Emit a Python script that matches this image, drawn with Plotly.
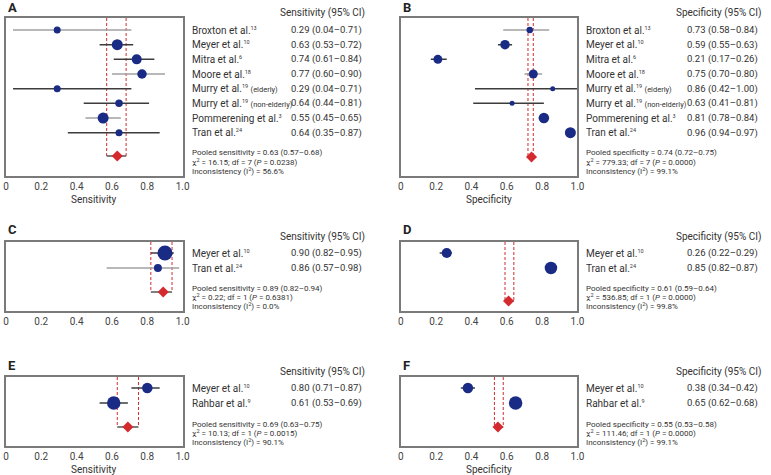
import plotly.graph_objects as go

W, H = 771, 475
FONT = "Roboto"
NAVY = "#1A2B86"
RED = "#D42A2E"
TXT = "#333333"


def sup(t):
    return f"<sup><span style='font-size:5.5px'>{t}</span></sup>"


SMALL = "<span style='font-size:7.5px'>{}</span>"

# ------------------------------------------------------------------ data
A_studies = ["Broxton et al." + sup(13), "Meyer et al." + sup(10), "Mitra et al." + sup(6),
             "Moore et al." + sup(18), "Murry et al." + sup(19) + " " + SMALL.format("(elderly)"),
             "Murry et al." + sup(19) + " " + SMALL.format("(non-elderly)"),
             "Pommerening et al." + sup(3), "Tran et al." + sup(24)]
A_est = [0.29, 0.63, 0.74, 0.77, 0.29, 0.64, 0.55, 0.64]
A_lo = [0.04, 0.53, 0.61, 0.60, 0.04, 0.44, 0.45, 0.35]
A_hi = [0.71, 0.72, 0.84, 0.90, 0.71, 0.81, 0.65, 0.87]
A_pooled = [0.63, 0.57, 0.68]
A_stats = ["16.15", "7", "0.0238", "56.6"]

B_studies = A_studies
B_est = [0.73, 0.59, 0.21, 0.75, 0.86, 0.63, 0.81, 0.96]
B_lo = [0.58, 0.55, 0.17, 0.70, 0.42, 0.41, 0.78, 0.94]
B_hi = [0.84, 0.63, 0.26, 0.80, 1.00, 0.81, 0.84, 0.97]
B_pooled = [0.74, 0.72, 0.75]
B_stats = ["779.33", "7", "0.0000", "99.1"]

C_studies = ["Meyer et al." + sup(10), "Tran et al." + sup(24)]
C_est = [0.90, 0.86]
C_lo = [0.82, 0.57]
C_hi = [0.95, 0.98]
C_pooled = [0.89, 0.82, 0.94]
C_stats = ["0.22", "1", "0.6381", "0.0"]

D_studies = ["Meyer et al." + sup(10), "Tran et al." + sup(24)]
D_est = [0.26, 0.85]
D_lo = [0.22, 0.82]
D_hi = [0.29, 0.87]
D_pooled = [0.61, 0.59, 0.64]
D_stats = ["536.85", "1", "0.0000", "99.8"]

E_studies = ["Meyer et al." + sup(10), "Rahbar et al." + sup(9)]
E_est = [0.80, 0.61]
E_lo = [0.71, 0.53]
E_hi = [0.87, 0.69]
E_pooled = [0.69, 0.63, 0.75]
E_stats = ["10.13", "1", "0.0015", "90.1"]

F_studies = ["Meyer et al." + sup(10), "Rahbar et al." + sup(9)]
F_est = [0.38, 0.65]
F_lo = [0.34, 0.62]
F_hi = [0.42, 0.68]
F_pooled = [0.55, 0.53, 0.58]
F_stats = ["111.46", "1", "0.0000", "99.1"]

tick_vals = [0, 0.2, 0.4, 0.6, 0.8, 1.0]
tick_text = ["0", "0.2", "0.4", "0.6", "0.8", "1.0"]

# ------------------------------------------------------------------ styling / layout (px)
GRAY, DARK = "#a0a0a0", "#3c3c3c"
panels = [
    dict(letter="A", kind="Sensitivity", studies=A_studies, est=A_est, lo=A_lo, hi=A_hi, pooled=A_pooled, stats=A_stats,
         box=(3, 182, 18, 176), r0=30, s=14.67, pooled_px=156, pool_txt=(153, 162, 171),
         sizes=[7, 11, 10, 9.5, 7, 7.5, 11, 7], lc=[GRAY, DARK, DARK, GRAY, DARK, DARK, GRAY, DARK],
         name_x=189, val_x=366, head_x=369, title=True, letter_y=7),
    dict(letter="B", kind="Specificity", studies=B_studies, est=B_est, lo=B_lo, hi=B_hi, pooled=B_pooled, stats=B_stats,
         box=(403, 582, 18, 176), r0=30, s=14.67, pooled_px=157, pool_txt=(153, 162, 171),
         sizes=[6.5, 9.5, 9, 9, 5, 5, 10.5, 11], lc=[GRAY, DARK, DARK, GRAY, DARK, DARK, GRAY, DARK],
         name_x=589, val_x=767, head_x=770, title=True, letter_y=7),
    dict(letter="C", kind="Sensitivity", studies=C_studies, est=C_est, lo=C_lo, hi=C_hi, pooled=C_pooled, stats=C_stats,
         box=(3, 182, 242, 311), r0=253, s=15, pooled_px=292, pool_txt=(288, 297, 306),
         sizes=[15, 8], lc=[DARK, GRAY],
         name_x=189, val_x=366, head_x=369, title=False, letter_y=229),
    dict(letter="D", kind="Specificity", studies=D_studies, est=D_est, lo=D_lo, hi=D_hi, pooled=D_pooled, stats=D_stats,
         box=(403, 582, 242, 311), r0=253, s=15, pooled_px=301, pool_txt=(288, 297, 306),
         sizes=[10, 12.5], lc=[DARK, DARK],
         name_x=589, val_x=767, head_x=770, title=False, letter_y=229),
    dict(letter="E", kind="Sensitivity", studies=E_studies, est=E_est, lo=E_lo, hi=E_hi, pooled=E_pooled, stats=E_stats,
         box=(3, 182, 377, 446), r0=388, s=15, pooled_px=427, pool_txt=(424, 433, 442),
         sizes=[10.5, 13.5], lc=[DARK, DARK],
         name_x=189, val_x=366, head_x=369, title=True, letter_y=365),
    dict(letter="F", kind="Specificity", studies=F_studies, est=F_est, lo=F_lo, hi=F_hi, pooled=F_pooled, stats=F_stats,
         box=(403, 582, 377, 446), r0=388, s=15, pooled_px=427, pool_txt=(424, 433, 442),
         sizes=[10.5, 13.5], lc=[DARK, DARK],
         name_x=589, val_x=767, head_x=770, title=True, letter_y=365),
]


def px_x(p):
    return p / W


def px_y(p):
    return 1 - p / H


fig = go.Figure()
annotations = []
layout = {}

for k, P in enumerate(panels):
    n = k + 1
    xa = "x" if n == 1 else f"x{n}"
    ya = "y" if n == 1 else f"y{n}"
    xkey = "xaxis" if n == 1 else f"xaxis{n}"
    ykey = "yaxis" if n == 1 else f"yaxis{n}"
    x0, x1, t, b = P["box"]
    r0, s = P["r0"], P["s"]
    ytop = (t - r0) / s
    ybot = (b - r0) / s
    prow = (P["pooled_px"] - r0) / s

    layout[xkey] = dict(domain=[px_x(x0), px_x(x1)], range=[0, 1], anchor=ya,
                        showgrid=False, zeroline=False, showline=True, mirror=True,
                        linecolor="#7a7a7a", linewidth=1.5, ticks="",
                        tickvals=tick_vals, ticktext=tick_text,
                        tickfont=dict(family=FONT, size=10, color="#444"), fixedrange=True)
    layout[ykey] = dict(domain=[px_y(b), px_y(t)], range=[ybot, ytop], anchor=xa,
                        showgrid=False, zeroline=False, showline=True, mirror=True,
                        linecolor="#7a7a7a", linewidth=1.5, showticklabels=False, ticks="",
                        fixedrange=True)

    # dashed pooled CI bounds
    for v in P["pooled"][1:]:
        fig.add_trace(go.Scatter(x=[v, v], y=[ytop, prow], mode="lines", xaxis=xa, yaxis=ya,
                                 line=dict(color=RED, width=1, dash="3px,2px"),
                                 hoverinfo="skip", showlegend=False))
    # pooled bracket
    fig.add_trace(go.Scatter(x=[P["pooled"][1], P["pooled"][2]], y=[prow, prow], mode="lines",
                             xaxis=xa, yaxis=ya, line=dict(color="#555", width=1.5),
                             hoverinfo="skip", showlegend=False))
    # study CIs
    for i in range(len(P["est"])):
        fig.add_trace(go.Scatter(x=[P["lo"][i], P["hi"][i]], y=[i, i], mode="lines",
                                 xaxis=xa, yaxis=ya, line=dict(color=P["lc"][i], width=1.5),
                                 hoverinfo="skip", showlegend=False, cliponaxis=False))
    # study points
    fig.add_trace(go.Scatter(x=P["est"], y=list(range(len(P["est"]))), mode="markers",
                             xaxis=xa, yaxis=ya,
                             marker=dict(color=NAVY, size=P["sizes"], opacity=1, line=dict(width=0)),
                             showlegend=False))
    # pooled diamond
    fig.add_trace(go.Scatter(x=[P["pooled"][0]], y=[prow], mode="markers", xaxis=xa, yaxis=ya,
                             marker=dict(color=RED, size=8.5, symbol="diamond", opacity=1, line=dict(width=0)),
                             showlegend=False))

    # texts
    annotations.append(dict(text=f"<b>{P['letter']}</b>", x=px_x(x0), y=px_y(P["letter_y"]),
                            xref="paper", yref="paper", xanchor="left", yanchor="middle",
                            showarrow=False, font=dict(family=FONT, size=13, color="#222")))
    annotations.append(dict(text=f"{P['kind']} (95% CI)", x=px_x(P["head_x"]), y=px_y(t - 5),
                            xref="paper", yref="paper", xanchor="right", yanchor="middle",
                            showarrow=False, font=dict(family=FONT, size=10, color=TXT)))
    for i, name in enumerate(P["studies"]):
        annotations.append(dict(text=name, x=px_x(P["name_x"]), y=i, xref="paper", yref=ya,
                                xanchor="left", yanchor="middle", showarrow=False,
                                font=dict(family=FONT, size=10, color=TXT)))
        annotations.append(dict(text=f"{P['est'][i]:.2f} ({P['lo'][i]:.2f}–{P['hi'][i]:.2f})",
                                x=px_x(P["val_x"]), y=i, xref="paper", yref=ya,
                                xanchor="right", yanchor="middle", showarrow=False,
                                font=dict(family=FONT, size=9.5, color=TXT)))
    pv, plo, phi = P["pooled"]
    chi2, df, pval, i2 = P["stats"]
    lines = [f"Pooled {P['kind'].lower()} = {pv:.2f} ({plo:.2f}–{phi:.2f})",
             f"χ<sup>2</sup> = {chi2}; df = {df} (<i>P</i> = {pval})",
             f"Inconsistency (I<sup>2</sup>) = {i2}%"]
    for ln, yp in zip(lines, P["pool_txt"]):
        annotations.append(dict(text=ln, x=px_x(P["name_x"]), y=px_y(yp), xref="paper", yref="paper",
                                xanchor="left", yanchor="middle", showarrow=False,
                                font=dict(family=FONT, size=8, color=TXT)))
    if P["title"]:
        annotations.append(dict(text=P["kind"], x=px_x((x0 + x1) / 2), y=px_y(b + 23),
                                xref="paper", yref="paper", xanchor="center", yanchor="middle",
                                showarrow=False, font=dict(family=FONT, size=10, color=TXT)))

fig.update_layout(width=W, height=H, margin=dict(l=0, r=0, t=0, b=0),
                  paper_bgcolor="white", plot_bgcolor="white",
                  font=dict(family=FONT, size=10, color=TXT),
                  annotations=annotations, showlegend=False, **layout)

fig.write_html("out.html", config={"displayModeBar": False},
               post_script="document.body.style.margin='0';document.body.style.overflow='hidden';")
